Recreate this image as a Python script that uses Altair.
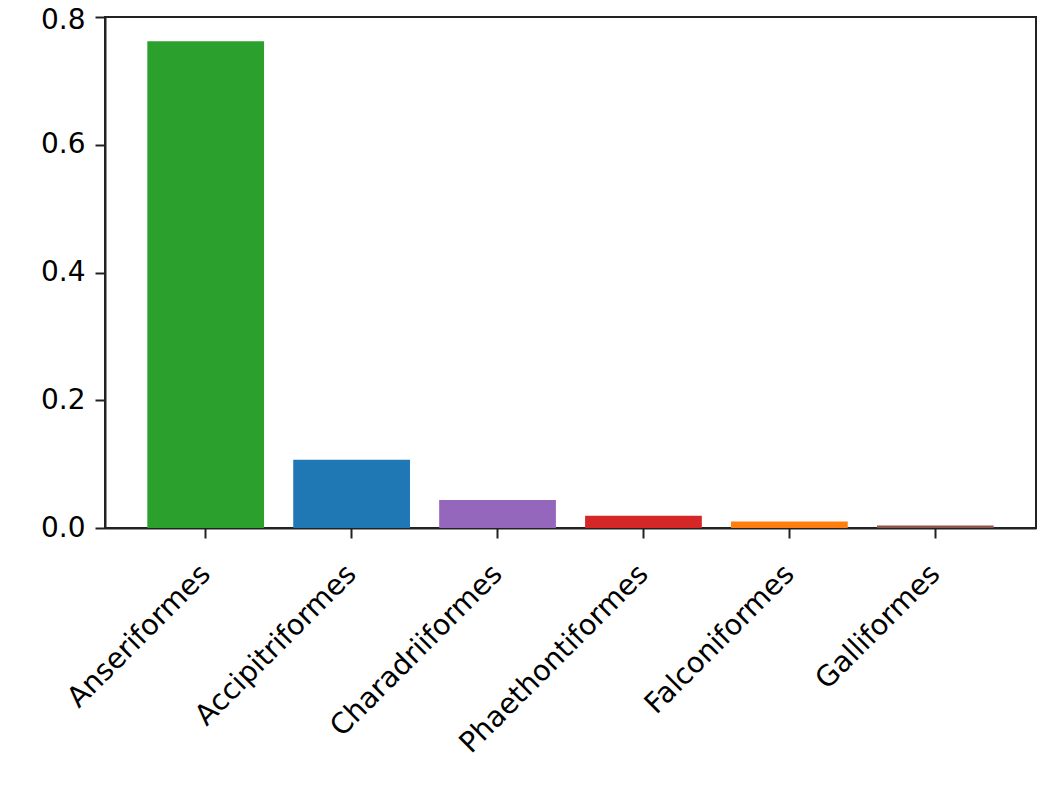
import altair as alt
import pandas as pd

orders = ["Anseriformes", "Accipitriformes", "Charadriiformes", "Phaethontiformes", "Falconiformes", "Galliformes"]
values = [0.762, 0.107, 0.044, 0.019, 0.010, 0.004]
colors = ["#2ca02c", "#1f77b4", "#9467bd", "#d62728", "#ff7f0e", "#8c564b"]

df = pd.DataFrame({"order": orders, "value": values, "color": colors})

font = "DejaVu Sans"

chart = alt.Chart(df).mark_bar().encode(
    x=alt.X("order:N", sort=None,
            scale=alt.Scale(paddingInner=0.2, paddingOuter=0.29),
            axis=alt.Axis(title=None, labelAngle=-45, labelAlign="right", labelBaseline="top",
                          labelFontSize=28.5, labelFont=font, labelColor="#000", labelLimit=0,
                          tickSize=10, tickWidth=2, tickColor="#222",
                          domainWidth=2, domainColor="#222", labelPadding=21, labelOffset=-10)),
    y=alt.Y("value:Q", scale=alt.Scale(domain=[0, 0.8], nice=False),
            axis=alt.Axis(title=None, values=[0, 0.2, 0.4, 0.6, 0.8], format=".1f",
                          labelFontSize=28, labelFont=font, labelColor="#000",
                          labelOffset={"condition": {"test": "datum.value >= 0.79", "value": 3}, "value": 0},
                          tickSize=10, tickWidth=2, tickColor="#222",
                          domainWidth=2, domainColor="#222", labelPadding=10, grid=False)),
    color=alt.Color("color:N", scale=None, legend=None),
).properties(
    width=931, height=511,
    autosize=alt.AutoSizeParams(type="none"),
    padding={"left": 97, "top": 9, "right": 10, "bottom": 260},
).configure(background="white").configure_view(stroke="#222", strokeWidth=2)

chart.save("out.html", embed_options={"renderer": "svg", "actions": False})
